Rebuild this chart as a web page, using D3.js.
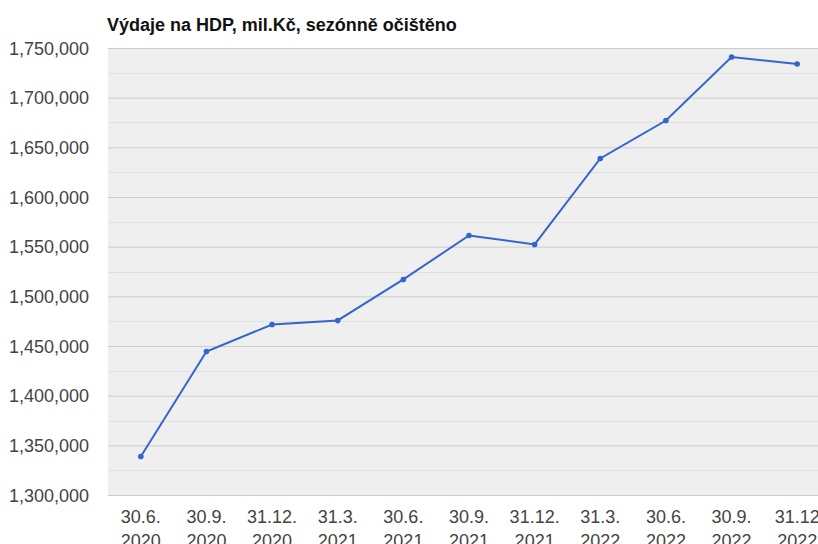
<!DOCTYPE html>
<html>
<head>
<meta charset="utf-8">
<script src="https://cdn.jsdelivr.net/npm/d3@7"></script>
<style>
  body { margin: 0; background: #fff; }
  svg { display: block; font-family: "Liberation Sans", Arial, sans-serif; }
</style>
</head>
<body>
<svg id="chart" width="818" height="544"></svg>
<script>
// data
var dny = ["30.6.", "30.9.", "31.12.", "31.3.", "30.6.", "30.9.", "31.12.", "31.3.", "30.6.", "30.9.", "31.12"];
var roky = ["2020", "2020", "2020", "2021", "2021", "2021", "2021", "2022", "2022", "2022", "2022"];
var vydaje = [1338800, 1444500, 1471600, 1475700, 1517000, 1561300, 1552200, 1638800, 1677000, 1741000, 1733900];
var yTicks = [1300000, 1350000, 1400000, 1450000, 1500000, 1550000, 1600000, 1650000, 1700000, 1750000];
var yMinor = [1325000, 1375000, 1425000, 1475000, 1525000, 1575000, 1625000, 1675000, 1725000];
var titulek = "Výdaje na HDP, mil.Kč, sezónně očištěno";

var svg = d3.select("#chart");
var okrajL = 108, okrajP = 830, okrajH = 48, okrajD = 495;

var x = d3.scaleBand().domain(d3.range(vydaje.length)).range([okrajL, okrajP]);
var y = d3.scaleLinear().domain([1300000, 1750000]).range([okrajD, okrajH]);

svg.append("rect")
  .attr("x", okrajL).attr("y", okrajH)
  .attr("width", okrajP - okrajL).attr("height", okrajD - okrajH)
  .attr("fill", "#efefef");

// minor grid
svg.selectAll(".minor").data(yMinor).enter().append("line")
  .attr("class", "minor")
  .attr("x1", okrajL).attr("x2", okrajP)
  .attr("y1", function(d){ return Math.round(y(d)) + 0.5; })
  .attr("y2", function(d){ return Math.round(y(d)) + 0.5; })
  .style("stroke", "#e0e0e0").style("stroke-width", 1);

// major grid via axis
var osaY = d3.axisLeft(y).tickValues(yTicks).tickFormat(d3.format(",")).tickSize(-(okrajP - okrajL)).tickPadding(19);
var gY = svg.append("g").attr("transform", "translate(" + okrajL + ",0)").call(osaY);
gY.select(".domain").remove();
gY.selectAll(".tick line").style("stroke", "#cccccc");
gY.selectAll(".tick text")
  .style("font-size", "18px").style("fill", "#444").attr("dy", "0.35em");

// x labels, two lines
var osaX = d3.axisBottom(x).tickSize(0).tickFormat(function(i){ return dny[i]; });
var gX = svg.append("g").attr("transform", "translate(0," + okrajD + ")").call(osaX);
gX.select(".domain").remove();
gX.selectAll(".tick text").each(function(i){
  var t = d3.select(this);
  t.text(null).attr("y", 0).attr("dy", null)
    .style("font-size", "18px").style("fill", "#444");
  t.append("tspan").attr("x", 0).attr("y", 28).text(dny[i]);
  t.append("tspan").attr("x", 0).attr("y", 52).text(roky[i]);
});

// line
var cara = d3.line()
  .x(function(d, i){ return x(i) + x.bandwidth() / 2; })
  .y(function(d){ return y(d); });

svg.append("path").datum(vydaje)
  .attr("d", cara)
  .attr("fill", "none")
  .attr("stroke", "#3366cc")
  .attr("stroke-width", 2);

svg.selectAll(".bod").data(vydaje).enter().append("circle")
  .attr("class", "bod")
  .attr("cx", function(d, i){ return x(i) + x.bandwidth() / 2; })
  .attr("cy", function(d){ return y(d); })
  .attr("r", 2.8)
  .attr("fill", "#3366cc");

svg.append("text")
  .attr("x", 107).attr("y", 31)
  .style("font-size", "18px").style("font-weight", "bold").style("fill", "#111")
  .text(titulek);
</script>
</body>
</html>
